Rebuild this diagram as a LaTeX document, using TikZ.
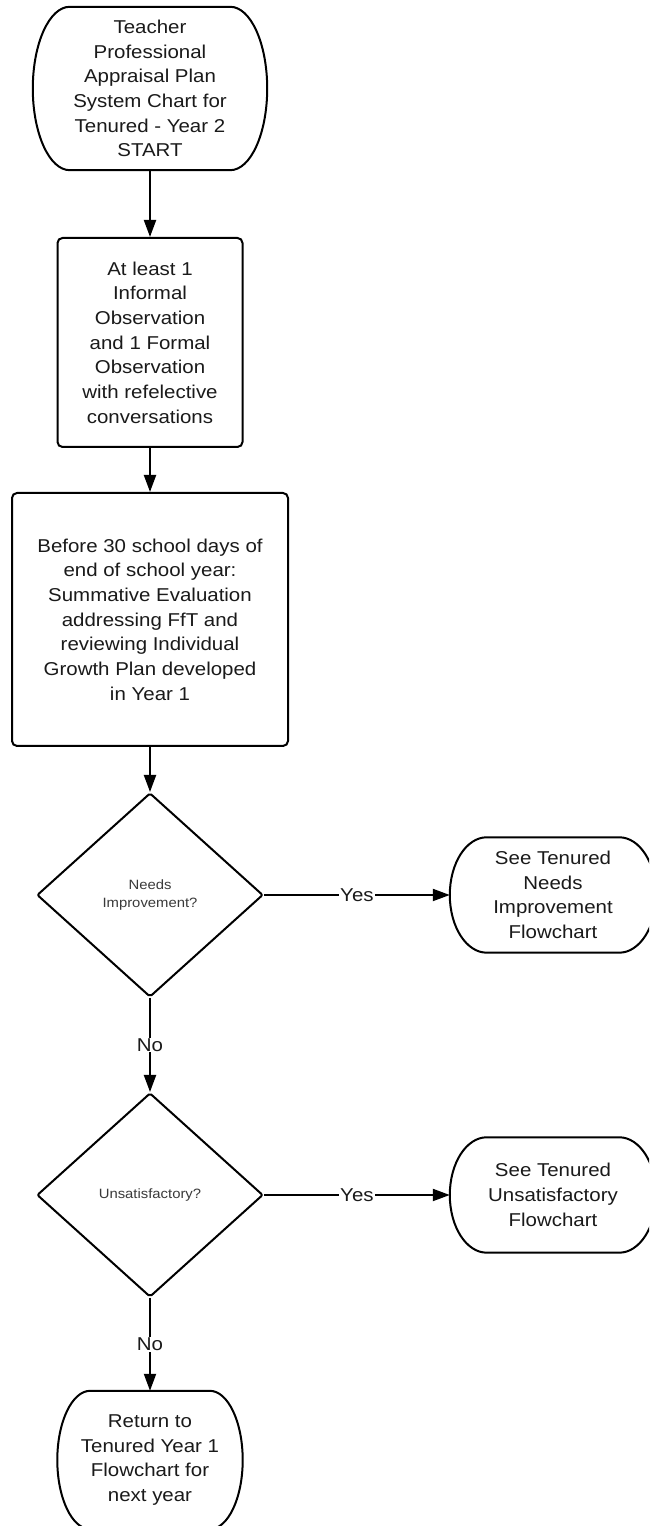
\documentclass[tikz,border=0pt]{standalone}
\usepackage{fontspec}
\setmainfont{Liberation Sans}[FakeStretch=1.1]
\usetikzlibrary{shapes.geometric,arrows.meta,calc}
\definecolor{txt}{HTML}{1A1A1A}
\definecolor{stxt}{HTML}{3A3A3A}
\newcommand{\bigtxt}{\fontsize{18.6}{24.7}\selectfont}
\newcommand{\smalltxt}{\fontsize{13.5}{18}\selectfont}
\newcommand{\termoutline}[2]{%
  \draw[line] let \p1=(#1.north west), \p2=(#1.south east), \n1={0.5*(\y1-\y2)} in
    ({\x1+#2pt},\y1) -- ({\x2-#2pt},\y1)
    arc[start angle=90,end angle=-90,x radius=#2pt,y radius=\n1]
    -- ({\x1+#2pt},\y2)
    arc[start angle=270,end angle=90,x radius=#2pt,y radius=\n1] -- cycle;}
\begin{document}
\begin{tikzpicture}[x=1pt,y=1pt,
  line/.style={line width=2pt,draw=black},
  arr/.style={line width=2pt,draw=black,-{Triangle[length=17pt,width=12pt]}},
  term/.style={draw=none,align=center,inner sep=0pt,text=txt,font=\bigtxt},
  procbox/.style={draw=black,line width=2pt,rounded corners=5pt,align=center,inner sep=0pt,text=txt,font=\bigtxt},
  decision/.style={diamond,draw=black,line width=2pt,rounded corners=2pt,inner sep=0pt,align=center,text=stxt,font=\smalltxt,minimum width=226pt,minimum height=204pt},
  lbl/.style={fill=white,inner sep=1pt,text=txt,font=\bigtxt}]
\useasboundingbox (0,0) rectangle (649,1526);
\clip (0,0) rectangle (649,1526);
\fill[white] (0,0) rectangle (649,1526);

\node[term,minimum width=234pt,minimum height=163pt] (start) at (150,1437.5)
  {Teacher\\Professional\\Appraisal Plan\\System Chart for\\Tenured - Year 2\\START};
\node[procbox,minimum width=185pt,minimum height=209pt] (obs) at (150,1183.5)
  {At least 1\\Informal\\Observation\\and 1 Formal\\Observation\\with refelective\\conversations};
\node[procbox,minimum width=276pt,minimum height=253pt] (summ) at (150,906.5)
  {Before 30 school days of\\end of school year:\\Summative Evaluation\\addressing FfT and\\reviewing Individual\\Growth Plan developed\\in Year 1};
\node[decision] (ni) at (150,631) {Needs\\Improvement?};
\node[term,minimum width=206pt,minimum height=115pt] (seeni) at (553,631)
  {See Tenured\\Needs\\Improvement\\Flowchart};
\node[decision] (unsat) at (150,331) {Unsatisfactory?};
\node[term,minimum width=206pt,minimum height=115pt] (seeun) at (553,331)
  {See Tenured\\Unsatisfactory\\Flowchart};
\node[term,minimum width=185pt,minimum height=138pt] (ret) at (150,66)
  {Return to\\Tenured Year 1\\Flowchart for\\next year};

\termoutline{start}{37}
\termoutline{seeni}{37}
\termoutline{seeun}{37}
\termoutline{ret}{33}

\draw[arr] (start.south) -- (obs.north);
\draw[arr] (obs.south) -- (summ.north);
\draw[arr] (summ.south) -- (ni.north);
\draw[arr] (ni.east) -- node[lbl] {Yes} (seeni.west);
\draw[arr] (ni.south) -- node[lbl] {No} (unsat.north);
\draw[arr] (unsat.east) -- node[lbl] {Yes} (seeun.west);
\draw[arr] (unsat.south) -- node[lbl] {No} (ret.north);
\end{tikzpicture}
\end{document}
